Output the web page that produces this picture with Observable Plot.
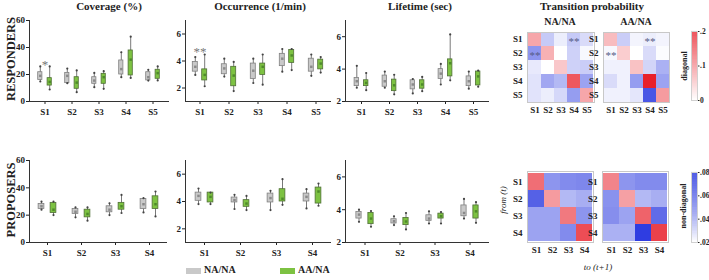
<!DOCTYPE html>
<html><head><meta charset="utf-8">
<script src="https://cdn.jsdelivr.net/npm/d3@7"></script>
<script src="https://cdn.jsdelivr.net/npm/@observablehq/plot@0.6"></script>
<style>
body{margin:0;background:#fff;}
#fig{position:relative;width:709px;height:280px;overflow:hidden;font-family:'Liberation Serif','DejaVu Serif',serif;font-weight:bold;color:#222;}
#fig svg{position:absolute;overflow:visible;}
.lbl{position:absolute;white-space:nowrap;line-height:1;}
.c{transform:translate(-50%,0);}
.r{transform:translate(-50%,-50%) rotate(-90deg);}
</style></head><body><div id="fig"></div>
<script>
// ---------------- data ----------------
const statesR = ["S1","S2","S3","S4","S5"];
const statesP = ["S1","S2","S3","S4"];
const groups = ["NA/NA","AA/NA"];
// box stats per state: [min, q1, mid, q3, max]
const covR_NA = [[14.8,16,19,21.7,26],[13.6,13.6,19,21.2,24.4],[10.6,13.1,15.5,18,21.2],[18,20,24,30.4,36.5],[15.5,15.6,18,21.7,23.5]];
const covR_AA = [[8.9,11.8,14.5,17.3,26],[6.9,9.4,14,18,23],[9.4,13.1,18,20.5,22.5],[17.5,19.3,31,37.8,48],[15.6,16.8,21,23.5,26]];
const occR_NA = [[2.97,3.21,3.57,3.93,4.29],[2.85,3.02,3.45,3.76,4.17],[2.37,2.66,3.28,3.81,4.17],[3.21,3.62,4.17,4.53,4.89],[2.9,3.21,3.57,4.17,4.48]];
const occR_AA = [[2.13,2.56,2.97,3.38,4.48],[1.77,2.13,2.92,3.57,3.93],[2.25,2.97,3.57,3.81,4.48],[3.33,3.86,4.41,4.82,4.89],[3.14,3.38,3.81,4.1,4.29]];
const lifR_NA = [[2.85,2.95,3.25,3.45,4.2],[2.85,2.91,3.25,3.6,3.85],[2.5,2.75,3.05,3.31,3.39],[3.05,3.39,3.72,4.0,4.32],[2.79,2.95,3.25,3.55,3.85]];
const lifR_AA = [[2.7,2.95,3.15,3.31,3.76],[2.44,2.64,3.0,3.35,3.65],[2.64,2.79,3.05,3.31,3.52],[3.31,3.55,4.36,4.6,6.14],[2.91,2.99,3.55,3.85,3.91]];
const covP_NA = [[24,24.5,26.5,28.2,29.9],[18.4,20.9,22.5,24.5,25.7],[20.1,22.1,24,26.5,28.7],[22,24.5,28,31.9,32.4]];
const covP_AA = [[20.1,21.6,24,29,29.9],[16,18.4,20.9,24,25.7],[21.6,24,26.5,29,34.8],[19.1,24.5,28,33.8,37.3]];
const occP_NA = [[3.81,4.05,4.41,4.65,4.95],[3.45,3.93,4.1,4.29,4.49],[3.37,3.93,4.25,4.58,4.78],[3.49,4.0,4.34,4.58,4.9]];
const occP_AA = [[3.81,3.93,4.34,4.65,4.65],[3.37,3.61,3.85,4.1,4.41],[3.76,4.0,4.2,4.9,5.63],[3.69,3.85,4.73,5.02,5.31]];
const lifP_NA = [[3.26,3.46,3.7,3.86,4.0],[3.06,3.16,3.3,3.42,3.6],[3.16,3.32,3.46,3.66,3.9],[3.46,3.6,3.8,4.26,4.66]];
const lifP_AA = [[2.96,3.12,3.46,3.8,3.92],[2.8,3.06,3.28,3.5,3.8],[3.16,3.46,3.6,3.76,3.86],[3.2,3.46,3.9,4.26,4.46]];
const covTicks = [0,20,40,60];
const occTicks = [2,4,6];
const lifTicks = [2,4,6];
const covStars = [{state:"S1", label:"*"}];
const occStars = [{state:"S1", label:"**"}];
// transition probability matrices: rows = from (t), cols = to (t+1)
const tpR_NA = [
 [0.08,0.035,0.025,0.035,0.03],
 [0.05,0.07,0.02,0.033,0.022],
 [0.026,0.02,0.05,0.033,0.034],
 [0.028,0.045,0.04,0.15,0.046],
 [0.028,0.025,0.031,0.048,0.08]];
const tpR_AA = [
 [0.06,0.034,0.023,0.025,0.023],
 [0.022,0.045,0.02,0.03,0.021],
 [0.024,0.024,0.055,0.032,0.042],
 [0.03,0.024,0.048,0.2,0.046],
 [0.024,0.024,0.027,0.068,0.09]];
const tpP_NA = [
 [0.13,0.05,0.053,0.054],
 [0.065,0.09,0.04,0.043],
 [0.046,0.046,0.12,0.05],
 [0.046,0.046,0.053,0.16]];
const tpP_AA = [
 [0.11,0.05,0.053,0.053],
 [0.051,0.085,0.04,0.043],
 [0.052,0.046,0.14,0.062],
 [0.042,0.042,0.075,0.17]];
const tpStars = [{from:"S1", to:"S4", label:"**"},{from:"S2", to:"S1", label:"**"}];
const diagTicks = [0,0.1,0.2];
const offTicks = [0.02,0.04,0.06,0.08];

// ---------------- helpers ----------------
const fig = document.getElementById("fig");
const SERIF = "'Liberation Serif','DejaVu Serif',serif";
const GRAY = "#c9c9c9", GRAY_S = "#808080", GREEN = "#7dc242", GREEN_S = "#4f6f35";
const RED = "#e8202a", BLUE = "#1c2cde";
const decFmt = d => d === 0 ? "0" : String(+d.toFixed(2)).replace(/^0/, "");

function place(svg, left, top) {
  svg.style.left = left + "px"; svg.style.top = top + "px";
  fig.appendChild(svg);
}
function label(text, x, y, cls, size, extra) {
  const d = document.createElement("div");
  d.className = "lbl " + (cls || "");
  d.textContent = text;
  d.style.left = x + "px"; d.style.top = y + "px";
  d.style.fontSize = size + "px";
  if (extra) Object.assign(d.style, extra);
  fig.appendChild(d);
}

function boxPanel({fl, fr, ft, fb, states, na, aa, domain, ticks, boxW, off, stars, starDy}) {
  const ML = 30, MR = 8, MT = 12, MB = 20;
  const rows = [];
  states.forEach((s, i) => {
    [[groups[0], na], [groups[1], aa]].forEach(([g, arr]) => {
      const [min, q1, mid, q3, max] = arr[i];
      rows.push({state: s, group: g, min, q1, mid, q3, max});
    });
  });
  const bw = (fr - fl) / states.length;
  const inset = (bw - boxW) / 2;
  const mk = (g, dx, fill, stroke, mfill) => {
    const d = rows.filter(r => r.group === g);
    return [
      Plot.ruleX(d, {x: "state", y1: "min", y2: "max", dx, stroke: "#555", strokeWidth: 0.8}),
      Plot.barY(d, {x: "state", y1: "q1", y2: "q3", dx, insetLeft: inset, insetRight: inset, fill, stroke, strokeWidth: 0.8}),
      Plot.dot(d, {x: "state", y: "min", dx, r: 1.1, fill: "#444", stroke: null}),
      Plot.dot(d, {x: "state", y: "max", dx, r: 1.1, fill: "#444", stroke: null}),
      Plot.dot(d, {x: "state", y: "mid", dx, r: 1.4, symbol: "square", fill: mfill, stroke: null})
    ];
  };
  const starRows = (stars || []).map(s => ({...s, y: d3.max(rows.filter(r => r.state === s.state), r => r.max)}));
  const svg = Plot.plot({
    width: (fr - fl) + ML + MR, height: (fb - ft) + MT + MB,
    marginLeft: ML, marginRight: MR, marginTop: MT, marginBottom: MB,
    style: {fontFamily: SERIF, fontWeight: "bold", fontSize: "9px", color: "#222", background: "transparent"},
    x: {domain: states, padding: 0},
    y: {domain},
    marks: [
      Plot.axisY({ticks, tickFormat: d => String(d), tickSize: 3, tickPadding: 1.5, label: null, fontSize: 9}),
      Plot.axisX({tickSize: 3, tickPadding: 4, label: null, fontSize: 9}),
      Plot.frame({anchor: "left", stroke: "#333"}),
      Plot.frame({anchor: "bottom", stroke: "#333"}),
      ...mk(groups[0], -off, GRAY, GRAY_S, "#8a8a8a"),
      ...mk(groups[1], off, GREEN, GREEN_S, "#4e8a2a"),
      Plot.text(starRows, {x: "state", y: "y", text: "label", dy: starDy, fill: "#777", fontSize: 13, fontWeight: "normal"})
    ]
  });
  place(svg, fl - ML, ft - MT);
}

function heatPanel({fl, fr, ft, fb, states, m, stars}) {
  const ML = 20, MR = 4, MT = 4, MB = 14;
  const cells = [];
  states.forEach((f, i) => states.forEach((t, j) => cells.push({from: f, to: t, v: m[i][j]})));
  const svg = Plot.plot({
    width: (fr - fl) + ML + MR, height: (fb - ft) + MT + MB,
    marginLeft: ML, marginRight: MR, marginTop: MT, marginBottom: MB,
    style: {fontFamily: SERIF, fontWeight: "bold", fontSize: "9px", color: "#222", background: "transparent"},
    x: {domain: states, padding: 0, axis: null},
    y: {domain: states, padding: 0, axis: null},
    color: {type: "linear", domain: [0, 0.2], range: ["#ffffff", RED], clamp: true},
    opacity: {type: "linear", domain: [0.02, 0.08], range: [0, 1], clamp: true},
    marks: [
      Plot.cell(cells.filter(c => c.from === c.to), {x: "to", y: "from", fill: "v"}),
      Plot.cell(cells.filter(c => c.from !== c.to), {x: "to", y: "from", fill: BLUE, fillOpacity: {value: "v", scale: "opacity"}}),
      Plot.text(stars || [], {x: "to", y: "from", text: "label", fill: "#555a85", fontSize: 11, fontWeight: "normal", dy: 2}),
      Plot.frame({stroke: "#c8c8c8"}),
      Plot.axisX({anchor: "bottom", tickSize: 0, tickPadding: 4, label: null, fontSize: 9}),
      Plot.axisY({anchor: "left", tickSize: 0, tickPadding: 5, label: null, fontSize: 9})
    ]
  });
  place(svg, fl - ML, ft - MT);
}

function colorBar({fl, fr, ft, fb, domain, ticks, red}) {
  const ML = 2, MR = 14, MT = 4, MB = 4;
  const step = (domain[1] - domain[0]) / 120;
  const steps = d3.range(domain[0], domain[1] - step / 2, step);
  const svg = Plot.plot({
    width: (fr - fl) + ML + MR, height: (fb - ft) + MT + MB,
    marginLeft: ML, marginRight: MR, marginTop: MT, marginBottom: MB,
    style: {fontFamily: SERIF, fontWeight: "bold", fontSize: "8px", color: "#222", background: "transparent"},
    y: {domain},
    color: {type: "linear", domain: [0, 0.2], range: ["#ffffff", RED]},
    opacity: {type: "linear", domain: [0.02, 0.08], range: [0, 1], clamp: true},
    marks: [
      red
        ? Plot.rectY(steps, {y1: d => d, y2: d => d + step * 1.05, fill: d => d + step / 2})
        : Plot.rectY(steps, {y1: d => d, y2: d => d + step * 1.05, fill: BLUE, fillOpacity: {value: d => d + step / 2, scale: "opacity"}}),
      Plot.frame({stroke: "#d0d0d0"}),
      Plot.axisY({anchor: "right", ticks, tickFormat: decFmt, tickSize: 1.5, tickPadding: 1, label: null, fontSize: 7.5})
    ]
  });
  place(svg, fl - ML, ft - MT);
}

// ---------------- box plot panels ----------------
boxPanel({fl: 29, fr: 168, ft: 20, fb: 101, states: statesR, na: covR_NA, aa: covR_AA, domain: [0, 60], ticks: covTicks, boxW: 5, off: 4.7, stars: covStars, starDy: -2});
boxPanel({fl: 185, fr: 330, ft: 20, fb: 101, states: statesR, na: occR_NA, aa: occR_AA, domain: [1, 7], ticks: occTicks, boxW: 5, off: 4.7, stars: occStars, starDy: -3});
boxPanel({fl: 345, fr: 488, ft: 20, fb: 101, states: statesR, na: lifR_NA, aa: lifR_AA, domain: [2, 7], ticks: lifTicks, boxW: 5, off: 4.7});
boxPanel({fl: 29, fr: 166, ft: 160, fb: 242, states: statesP, na: covP_NA, aa: covP_AA, domain: [0, 60], ticks: covTicks, boxW: 6, off: 6});
boxPanel({fl: 185, fr: 330, ft: 160, fb: 242, states: statesP, na: occP_NA, aa: occP_AA, domain: [1, 7], ticks: occTicks, boxW: 6, off: 6});
boxPanel({fl: 345, fr: 488, ft: 160, fb: 242, states: statesP, na: lifP_NA, aa: lifP_AA, domain: [2, 7], ticks: lifTicks, boxW: 6, off: 6});

// ---------------- transition matrices ----------------
heatPanel({fl: 527, fr: 594, ft: 32, fb: 102, states: statesR, m: tpR_NA, stars: tpStars});
heatPanel({fl: 603, fr: 669, ft: 32, fb: 102, states: statesR, m: tpR_AA, stars: tpStars});
heatPanel({fl: 527, fr: 593, ft: 171, fb: 242, states: statesP, m: tpP_NA});
heatPanel({fl: 602, fr: 668, ft: 171, fb: 242, states: statesP, m: tpP_AA});
colorBar({fl: 691, fr: 697, ft: 31, fb: 100, domain: [0, 0.2], ticks: diagTicks, red: true});
colorBar({fl: 691, fr: 697, ft: 172, fb: 242, domain: [0.02, 0.08], ticks: offTicks, red: false});

// ---------------- text ----------------
label("Coverage (%)", 109, 1, "c", 11);
label("Occurrence (1/min)", 260, 1, "c", 11);
label("Lifetime (sec)", 420, 1, "c", 11);
label("Transition probability", 592, 1, "c", 11);
label("NA/NA", 560, 17, "c", 10);
label("AA/NA", 636, 17, "c", 10);
label("RESPONDERS", 11, 59, "r", 12.5);
label("PROPOSERS", 11, 200, "r", 12.5);
label("diagonal", 685, 66, "r", 8);
label("non-diagonal", 684, 206, "r", 8);
label("from (t)", 503, 200, "r", 9, {fontStyle: "italic", fontWeight: "normal"});
label("to (t+1)", 598, 263, "c", 9, {fontStyle: "italic", fontWeight: "normal"});
// legend
(function legend() {
  const items = [[groups[0], GRAY, 186], [groups[1], GREEN, 280]];
  items.forEach(([name, col, x]) => {
    const sw = document.createElement("div");
    Object.assign(sw.style, {position: "absolute", left: x + "px", top: "268px", width: "15px", height: "6px", background: col});
    fig.appendChild(sw);
    label(name, x + 18, 265, "", 10);
  });
})();
</script></body></html>
